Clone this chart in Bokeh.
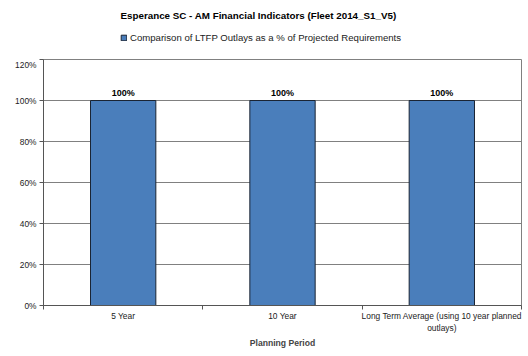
from bokeh.plotting import figure
from bokeh.layouts import column
from bokeh.models import (ColumnDataSource, FixedTicker, Legend, LegendItem, Range1d,
                          NumeralTickFormatter, LabelSet, Label)
from bokeh.core.properties import value
from bokeh.embed import file_html
from bokeh.resources import INLINE

categories = ["5 Year", "10 Year", "Long Term Average (using 10 year planned\noutlays)"]
values = [1.0, 1.0, 1.0]
value_labels = ["100%", "100%", "100%"]
series_name = "Comparison of LTFP Outlays as a % of Projected Requirements"
chart_title = "Esperance SC - AM Financial Indicators (Fleet 2014_S1_V5)"
x_title = "Planning Period"
y_ticks = [0, 0.2, 0.4, 0.6, 0.8, 1.0, 1.2]

FONT = "Liberation Sans"
BAR_FILL = "#4A7EBB"
BAR_LINE = "#1a2433"

xs = [i + 0.5 for i in range(len(categories))]
src = ColumnDataSource(dict(x=xs, top=values, lab=value_labels))

# ---- header (title + legend); its frame is aligned with the chart frame ----
head = figure(width=518, height=51, output_backend="svg", toolbar_location=None,
              x_axis_type=None, y_axis_type=None,
              x_range=Range1d(100, 100 + len(categories)), y_range=Range1d(100, 101.2),
              min_border_left=0, min_border_right=0, min_border_top=0, min_border_bottom=0)
head.outline_line_color = None
head.xgrid.visible = False
head.ygrid.visible = False
head.add_layout(Label(x=215, y=44, x_units="screen", y_units="screen", text=chart_title,
                      text_align="center", text_baseline="middle", text_font=FONT,
                      text_font_size="9.8px", text_font_style="bold", text_color="#000000"))
# legend key: same bar style; the header's ranges keep the bar itself out of view
key = head.vbar(x=xs[:1], top=values[:1], width=0.41, fill_color=BAR_FILL, line_color=BAR_LINE)
legend = Legend(items=[LegendItem(label=series_name, renderers=[key])],
                orientation="horizontal", location=(77, 16),
                label_text_font=FONT, label_text_font_size="9.6px",
                label_text_color="#222222", glyph_width=7, glyph_height=7,
                padding=0, margin=0, border_line_color=None, background_fill_alpha=0,
                label_standoff=3, label_height=12)
head.add_layout(legend)

# ---- main chart ----
p = figure(frame_width=478, frame_height=246, output_backend="svg", toolbar_location=None,
           x_range=Range1d(0, len(categories)), y_range=Range1d(0, 1.2),
           min_border_left=35, min_border_right=5, min_border_bottom=0, min_border_top=0)

r = p.vbar(x="x", top="top", width=0.41, source=src, fill_color=BAR_FILL,
           line_color=BAR_LINE, line_width=1)

labels = LabelSet(x="x", y="top", text="lab", source=src, text_align="center",
                  text_baseline="bottom", y_offset=3, text_font=value(FONT),
                  text_font_size="9px", text_font_style="bold", text_color="#000000")
p.add_layout(labels)

p.xaxis.ticker = FixedTicker(ticks=xs, minor_ticks=list(range(len(categories) + 1)))
p.xaxis.major_label_overrides = {x: c for x, c in zip(xs, categories)}
p.xaxis.major_tick_out = 0
p.xaxis.major_tick_in = 0
p.xaxis.minor_tick_out = 4
p.xaxis.minor_tick_in = 0
p.xaxis.minor_tick_line_color = "#555555"
p.xaxis.axis_line_color = "#555555"
p.xaxis.major_label_text_font = FONT
p.xaxis.major_label_text_font_size = "8.4px"
p.xaxis.major_label_text_color = "#222222"
p.xaxis.major_label_standoff = 1
p.xaxis.axis_label = x_title
p.xaxis.axis_label_text_font = FONT
p.xaxis.axis_label_text_font_size = "8.6px"
p.xaxis.axis_label_text_font_style = "bold"
p.xaxis.axis_label_standoff = 2

p.yaxis.ticker = FixedTicker(ticks=y_ticks, minor_ticks=[])
p.yaxis.formatter = NumeralTickFormatter(format="0%")
p.yaxis.major_tick_out = 4
p.yaxis.major_tick_in = 0
p.yaxis.major_tick_line_color = "#555555"
p.yaxis.axis_line_color = "#555555"
p.yaxis.major_label_text_font = FONT
p.yaxis.major_label_text_font_size = "8.4px"
p.yaxis.major_label_text_color = "#222222"
p.yaxis.major_label_standoff = 3

p.xgrid.visible = False
p.ygrid.grid_line_color = "#808080"
p.ygrid.grid_line_width = 1
p.outline_line_color = "#808080"

layout = column(head, p, spacing=0, margin=(8, 0, 0, 8))
open("out.html", "w").write(file_html(layout, INLINE))
